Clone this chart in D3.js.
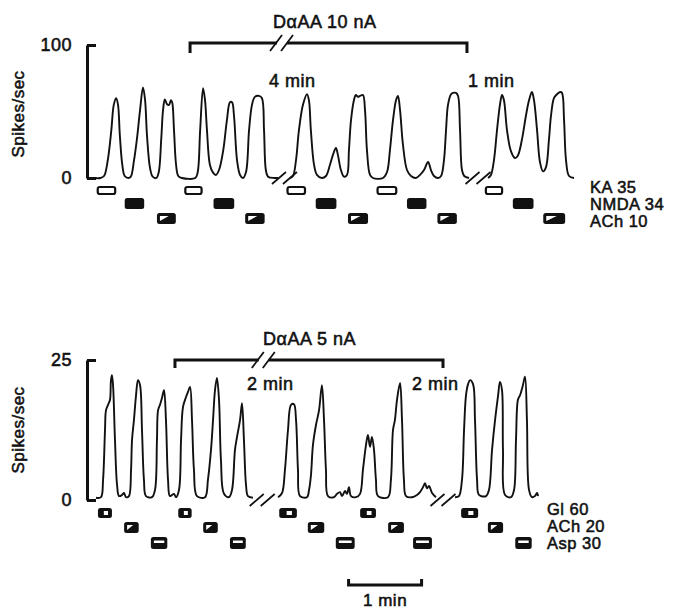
<!DOCTYPE html>
<html>
<head>
<meta charset="utf-8">
<script src="https://cdn.jsdelivr.net/npm/d3@7"></script>
<style>
  body { margin: 0; background: #fff; }
  svg { display: block; }
  text { font-family: "Liberation Sans", Arial, Helvetica, sans-serif; fill: #111; stroke: #111; stroke-width: 0.55px; letter-spacing: 0.5px; }
</style>
</head>
<body>
<div id="chart"></div>
<script>
// recording traces: [time (s), spikes/sec], one array per segment between the breaks
var topSeg1 = [[7,0],[11,0],[14,1.5],[17,13],[20,36],[22,55],[24,60],[25.5,55],[27,32],[29,10],[31,1.5],[34,0],[36,1],[38.6,13],[41,29],[43.6,51],[46,68],[47.7,59],[49.3,32],[51.8,7.5],[54,1],[57,0],[59,4.5],[61,29],[62.5,51],[64,59],[65.8,55.5],[67.4,55],[69,58.5],[70,57],[71.5,36],[73.2,10],[75,1.5],[78,0],[89,0],[91,4.5],[93,36],[95.4,67.5],[97,58.5],[98.6,36],[101,10],[103.6,4],[106,2.3],[108.5,6],[112,21],[115,43.5],[117.5,57],[119.2,57],[120.8,47],[123.3,13.5],[125.8,2.3],[128.2,0],[130.7,4.5],[133.2,36],[135.6,55],[138,61],[141.4,61.7],[143.8,60],[145.5,36],[147,6],[148.8,1],[154,0],[157,0]];
var topSeg2 = [[167,0],[169.3,1.5],[171.8,13.5],[174.2,36],[177.5,55],[180.8,63],[182.4,58.5],[184,36],[186.6,10],[189,2.3],[193,0],[196.4,1.5],[199.7,10],[202,17],[204.6,22.6],[206.3,17],[208.7,6],[211.2,1],[213.7,2.3],[215.3,21],[217,43.5],[219.4,58.5],[221,62.4],[222.7,61],[224.4,61.7],[226.8,62.4],[228.5,51],[230.1,21],[232.6,2.3],[235,0],[243.3,0],[246.6,4.5],[249,21],[251.5,43.5],[254,58.5],[255.6,61.7],[257.3,51],[259.7,25],[263,6],[266.3,1.5],[270.4,0],[273.7,2.3],[277,6],[280.3,12],[282.7,6],[285.2,1.5],[288.5,0],[291,1.5],[293.4,13.5],[295.1,36],[296.7,55],[299.2,63],[300.8,64],[303.3,64],[305,61.7],[306.6,36],[308.2,6],[310,1.5],[314,0]];
var topSeg3 = [[329.6,0],[332,2.3],[334.5,13.5],[337,36],[339.4,55],[341.1,62.4],[342.7,58.5],[345.2,36],[348.5,20],[351.8,15],[354.2,17],[357.5,29],[360.8,47],[363.3,58.5],[365.7,64.7],[367.4,58.5],[369.9,36],[372.3,12],[374.8,5],[377.2,8],[379.7,29],[381.4,47],[383.8,60],[386.3,63],[388.8,64.7],[390.4,64],[392.1,43.5],[393.7,13.5],[396.2,1.5],[400.3,0]];

var botSeg1 = [[7.4,0.4],[11.5,0.5],[13.2,3.6],[14.8,12.5],[15.6,16],[17.3,17],[18.9,17.9],[19.7,21.4],[20.5,22.3],[21.4,20.5],[23,10.7],[24.7,2.7],[26.3,0.7],[28.8,0.9],[30.4,1.25],[32.1,0.5],[34.5,0.7],[36.2,5.4],[37,10.7],[38.6,14.3],[40.3,18.7],[41.9,21.4],[43.6,20.5],[45.2,12.5],[46.8,3.6],[48.5,0.7],[53.4,0.5],[55.9,1.8],[57.5,10.7],[58.4,16],[60,17],[61.6,18.2],[63.3,19.6],[64.9,14.3],[66.6,3.6],[68.2,0.7],[71.5,1.1],[73.1,0.5],[75.6,1.8],[77.3,10.7],[78.9,16.6],[81.4,18.4],[83,19.3],[84.7,20.2],[86.3,14.3],[87.9,5.4],[90.4,0.7],[97,0.5],[99.4,3.6],[101.9,8.9],[103.6,14.3],[105.2,19.6],[106.8,21.8],[108.5,17.9],[110.1,7.1],[112.6,1.1],[116.7,0.5],[119.2,1.8],[121.6,8.9],[123.3,11.25],[125.8,14.3],[127.4,17.3],[129,10.7],[130.7,2.7],[132.3,0.7],[136.4,0.4]];
var botSeg2 = [[157,0.5],[160.3,1.25],[162.7,5.4],[165.2,12.5],[167.7,17],[170.1,17.1],[171.8,14.3],[173.4,5.4],[175.1,0.7],[180.8,0.5],[182.5,1.8],[184.1,4.5],[185.7,9.8],[188.2,13.4],[190.7,16],[193.1,20.5],[194.8,14.3],[196.4,5.4],[198.1,0.7],[203,0.5],[205.5,1.1],[207.9,1.4],[209.6,0.7],[212.1,1.6],[213.7,1.1],[215.3,2.3],[217,0.7],[221.1,0.5],[224.4,1.1],[226.8,5.4],[229.3,9.8],[230.9,11.6],[232.6,9.5],[234.2,11.25],[235.9,8.9],[237.5,3.6],[239.2,0.7],[247.4,0.5],[249.8,3.6],[251.5,12.5],[253.1,14.3],[254.8,17.9],[257.3,20.9],[258.9,14.3],[260.5,3.6],[262.2,0.7],[267.1,0.5],[271.2,0.9],[273.7,1.4],[276.2,2.3],[277.8,3],[279.4,2.1],[281.1,2.5],[283.6,1.25],[286.8,0.5]];
var botSeg3 = [[302.5,0.5],[305.7,0.7],[308.2,3.6],[309.9,12.5],[311.5,18.7],[313.2,20.7],[314.8,21.4],[317.3,20.7],[318.9,14.3],[320.6,3.6],[322.2,0.9],[328,0.7],[330.4,1.8],[332.9,8.9],[335.4,14.3],[337.9,18.7],[339.4,21.1],[341.1,19.6],[341.9,8.9],[343.6,0.9],[348.5,0.5],[351,1.8],[352.6,10.7],[354.2,17.9],[355.9,18.7],[358.3,20.5],[360,22],[361.6,14.3],[363.3,1.8],[365.7,0.5],[368.2,0.7],[369.9,1.25],[370.7,0.7]];

// drug applications: [start, end] in s
var kaOn   = [[8,24],[80,95],[164,180],[238,255],[327,342]];
var nmdaOn = [[31,47],[104,121],[188,205],[263,279],[350,367]];
var achOn  = [[57.5,73],[130,146],[214.5,231],[288,304],[375,393]];
var glOn   = [[9,20.5],[75,86],[158,172.5],[224.5,237.5],[307.5,321.5]];
var ach2On = [[30.5,42.5],[95.5,107.5],[181.5,195],[247.5,260.5],[329.5,342]];
var aspOn  = [[52.5,66],[117.5,130.5],[204.5,220],[268,283.5],[352,365.5]];

// breaks in the record, time of the break (s)
var topBreaks = [162.3, 321.4];
var botBreaks = [144, 292.6];

var topLabels = ["KA 35", "NMDA 34", "ACh 10"];
var botLabels = ["Gl 60", "ACh 20", "Asp 30"];

var svgWidth = 678, svgHeight = 610;
var svg = d3.select("#chart").append("svg")
  .attr("width", svgWidth)
  .attr("height", svgHeight);

// 1 min = 73 px
var x = d3.scaleLinear().domain([0, 500]).range([87, 87 + 500 * 73 / 60]);
var yTop = d3.scaleLinear().domain([0, 100]).range([178, 45]);
var yBot = d3.scaleLinear().domain([0, 25]).range([500, 360]);

function drawPanel(y, segs, breaks, ticks) {
  var g = svg.append("g");

  // bracket style y axis
  var axis = d3.axisLeft(y).tickValues(ticks).tickSizeInner(-9).tickSizeOuter(0).tickPadding(15);
  var ag = g.append("g")
    .attr("transform", "translate(" + x(0) + ",0)")
    .call(axis);
  ag.selectAll("path, line").attr("stroke", "#111").attr("stroke-width", 3);
  ag.selectAll("text").attr("font-size", 18).attr("fill", "#111")
    .style("font-family", '"Liberation Sans", Arial, sans-serif');

  var line = d3.line().x(d => x(d[0])).y(d => y(d[1])).curve(d3.curveCatmullRom.alpha(0.5));
  g.selectAll("path.trace")
    .data(segs)
    .enter()
    .append("path")
    .attr("class", "trace")
    .attr("d", line)
    .attr("fill", "none")
    .attr("stroke", "#111")
    .attr("stroke-width", 1.9)
    .attr("stroke-linejoin", "round");

  // pairs of slashes at each break
  breaks.forEach(function (b) {
    var cx = x(b), cy = y(0);
    [-5.5, 5.5].forEach(function (d) {
      g.append("line")
        .attr("x1", cx + d - 7).attr("y1", cy + 6)
        .attr("x2", cx + d + 7).attr("y2", cy - 6)
        .attr("stroke", "#111").attr("stroke-width", 1.7);
    });
  });
  return g;
}

drawPanel(yTop, [topSeg1, topSeg2, topSeg3], topBreaks, [0, 100]);
drawPanel(yBot, [botSeg1, botSeg2, botSeg3], botBreaks, [0, 25]);

// y axis titles
svg.append("text")
  .attr("transform", "translate(24,114) rotate(-90)")
  .attr("text-anchor", "middle")
  .attr("font-size", 17)
  .text("Spikes/sec");
svg.append("text")
  .attr("transform", "translate(24,430) rotate(-90)")
  .attr("text-anchor", "middle")
  .attr("font-size", 17)
  .text("Spikes/sec");

// DaAA bracket with its break
function drawBracket(t0, t1, tb, yb, drop, label, lx, ly) {
  var xb = x(tb);
  var path = d3.path();
  path.moveTo(x(t0), yb + drop);
  path.lineTo(x(t0), yb);
  path.lineTo(xb - 4, yb);
  path.moveTo(xb + 6, yb);
  path.lineTo(x(t1), yb);
  path.lineTo(x(t1), yb + drop);
  svg.append("path")
    .attr("d", path.toString())
    .attr("fill", "none")
    .attr("stroke", "#111")
    .attr("stroke-width", 3);
  [-5, 6].forEach(function (d) {
    svg.append("line")
      .attr("x1", xb + d - 6).attr("y1", yb + 8)
      .attr("x2", xb + d + 6).attr("y2", yb - 8)
      .attr("stroke", "#111").attr("stroke-width", 1.8);
  });
  svg.append("text")
    .attr("x", lx).attr("y", ly)
    .attr("font-size", 18)
    .text(label);
}
drawBracket(84.7, 312.3, 159.5, 43, 10, "D\u03b1AA 10 nA", 273, 28);
drawBracket(72.3, 292.6, 144.5, 360, 8, "D\u03b1AA 5 nA", 263, 345);

// interval labels
var minLabels = [[269, 87, "4 min"], [468, 87, "1 min"], [247, 390, "2 min"], [412, 390, "2 min"]];
minLabels.forEach(function (m) {
  svg.append("text").attr("x", m[0]).attr("y", m[1]).attr("font-size", 18).text(m[2]);
});

// drug bars
function drawBars(on, yTopPx, h, kind) {
  var g = svg.append("g");
  on.forEach(function (d) {
    var x0 = x(d[0]), w = x(d[1]) - x(d[0]);
    if (kind === "open") {
      g.append("rect").attr("x", x0 + 1).attr("y", yTopPx + 1).attr("width", w - 2).attr("height", h - 2)
        .attr("rx", 2).attr("fill", "#fff").attr("stroke", "#111").attr("stroke-width", 2.2);
      return;
    }
    g.append("rect").attr("x", x0).attr("y", yTopPx).attr("width", w).attr("height", h)
      .attr("rx", 2.5).attr("fill", "#111");
    if (kind === "tri") {
      g.append("path")
        .attr("d", "M" + (x0 + 3) + "," + (yTopPx + h - 3) + "L" + (x0 + 3) + "," + (yTopPx + 3) + "L" + (x0 + w * 0.62) + "," + (yTopPx + 3) + "Z")
        .attr("fill", "#fff");
    } else if (kind === "sq") {
      g.append("rect").attr("x", x0 + w * 0.42).attr("y", yTopPx + 3).attr("width", w * 0.3).attr("height", h - 6)
        .attr("fill", "#fff");
    } else if (kind === "bar") {
      g.append("rect").attr("x", x0 + 3).attr("y", yTopPx + 3.5).attr("width", w - 6).attr("height", 2.5)
        .attr("fill", "#fff");
    }
  });
}
drawBars(kaOn, 186, 9, "open");
drawBars(nmdaOn, 198, 11, "solid");
drawBars(achOn, 213, 11, "tri");
drawBars(glOn, 508, 10, "sq");
drawBars(ach2On, 522, 11, "tri");
drawBars(aspOn, 537, 12, "bar");

// row labels, stacked tight as in the figure
topLabels.forEach(function (l, i) {
  svg.append("text").attr("x", 590).attr("y", 193 + i * 16.8).attr("font-size", 16.5).text(l);
});
botLabels.forEach(function (l, i) {
  svg.append("text").attr("x", 547).attr("y", 515 + i * 17).attr("font-size", 16.5).text(l);
});

// time scale bar: 1 min
var sb0 = 215, sb1 = 275;
svg.append("path")
  .attr("d", "M" + x(sb0) + ",579V585H" + x(sb1) + "V579")
  .attr("fill", "none").attr("stroke", "#111").attr("stroke-width", 3);
svg.append("text")
  .attr("x", (x(sb0) + x(sb1)) / 2).attr("y", 606)
  .attr("text-anchor", "middle").attr("font-size", 17)
  .text("1 min");
</script>
</body>
</html>
